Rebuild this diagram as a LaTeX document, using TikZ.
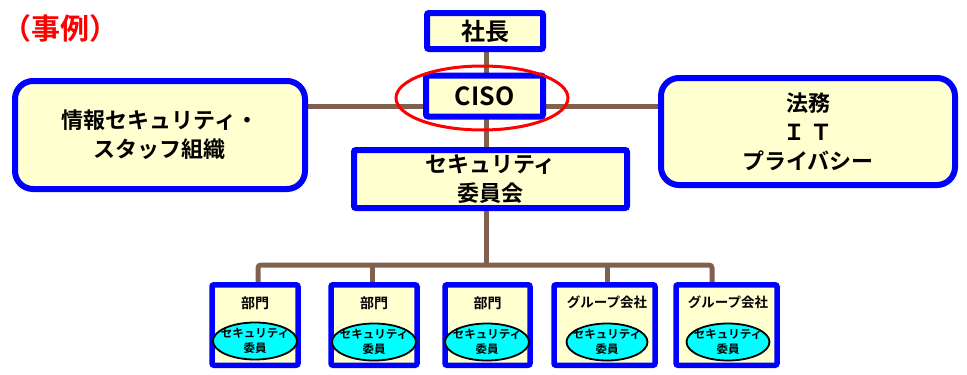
\documentclass[tikz,border=0pt]{standalone}
\usepackage{fontspec}
\setmainfont{Noto Sans CJK JP}[BoldFont={Noto Sans CJK JP Bold}]
\usetikzlibrary{shapes.geometric,backgrounds}
\definecolor{boxfill}{RGB}{255,255,208}
\definecolor{boxblue}{RGB}{0,0,255}
\definecolor{conncol}{RGB}{128,97,78}
\definecolor{ovalfill}{RGB}{0,255,255}
\definecolor{titlered}{RGB}{255,0,0}
\tikzset{
  orgbox/.style={draw=boxblue, fill=boxfill, line width=6pt, rounded corners=2pt, align=center, inner sep=0pt, font=\bfseries},
  bigbox/.style={orgbox, rounded corners=18pt},
  unitbox/.style={orgbox, line width=5.5pt, minimum height=80.5pt},
  conn/.style={draw=conncol, line width=5pt, rounded corners=3pt},
  oval/.style={ellipse, draw=black, fill=ovalfill, line width=1.8pt, minimum width=84pt, minimum height=37pt, inner xsep=-14pt, inner ysep=-5pt, align=center, font=\bfseries\fontsize{11.5}{15.5}\selectfont},
  unitlabel/.style={font=\bfseries\fontsize{14}{16}\selectfont, inner sep=0pt},
  redoval/.style={ellipse, draw=titlered, line width=3pt, minimum width=172pt, minimum height=64pt, inner sep=0pt}
}
\begin{document}
\begin{tikzpicture}[x=1pt,y=-1pt]
\useasboundingbox (0,0) rectangle (967,375);
% main boxes
\node[orgbox, minimum width=116pt, minimum height=36pt, font=\bfseries\fontsize{24}{26}\selectfont] (shacho) at (485,31) {社長};
\node[orgbox, minimum width=117pt, minimum height=41pt, font=\bfseries\fontsize{25}{28}\selectfont] (ciso) at (484.5,96) {CISO};
\node[orgbox, minimum width=273pt, minimum height=58pt, font=\bfseries\fontsize{22}{29}\selectfont] (committee) at (490.5,179) {セキュリティ\\委員会};
\node[bigbox, minimum width=290pt, minimum height=108pt, font=\bfseries\fontsize{22}{29}\selectfont] (staff) at (160,135) {情報セキュリティ・\\スタッフ組織};
\node[bigbox, minimum width=294pt, minimum height=107pt, font=\bfseries\fontsize{22}{29}\selectfont] (legal) at (808,131.5) {法務\\Ｉ Ｔ\\プライバシー};
% unit boxes
\node[unitbox, minimum width=86pt] (b1) at (255,325) {};
\node[unitbox, minimum width=86pt] (b2) at (374,325) {};
\node[unitbox, minimum width=85pt] (b3) at (487.5,325) {};
\node[unitbox, minimum width=101pt] (b4) at (604.5,325) {};
\node[unitbox, minimum width=101pt] (b5) at (726.5,325) {};
\node[unitlabel] (l1) at (255,303) {部門};
\node[unitlabel] (l2) at (374,303) {部門};
\node[unitlabel] (l3) at (487.5,303) {部門};
\node[unitlabel, font=\bfseries\fontsize{13.5}{16}\selectfont] (l4) at (607,302) {グループ会社};
\node[unitlabel, font=\bfseries\fontsize{13.5}{16}\selectfont] (l5) at (728,302) {グループ会社};
\node[oval] (o1) at (255,341) {セキュリティ\\委員};
\node[oval] (o2) at (374,342) {セキュリティ\\委員};
\node[oval] (o3) at (487,342) {セキュリティ\\委員};
\node[oval, minimum width=81pt] (o4) at (607,342) {セキュリティ\\委員};
\node[oval, minimum width=83pt] (o5) at (728,342) {セキュリティ\\委員};
% connectors
\coordinate (hy) at (486,106);
\coordinate (jm) at (486,265);
\coordinate (j1) at (258,265);
\coordinate (j2) at (372,265);
\coordinate (j4) at (607,265);
\coordinate (j5) at (712,265);
\begin{scope}[on background layer]
\draw[conn] (jm |- shacho.south) -- (jm);
\draw[conn] (staff.east |- hy) -- (legal.west |- hy);
\draw[conn] (j1 |- b1.north) -- (j1) -- (j5) -- (j5 |- b5.north);
\draw[conn] (j2) -- (j2 |- b2.north);
\draw[conn] (j4) -- (j4 |- b4.north);
\end{scope}
% highlight
\node[redoval] (hl) at (482,98) {};
% title
\node[text=titlered, font=\bfseries\fontsize{29}{32}\selectfont, inner sep=0pt] (title) at (60,28) {（事例）};
\end{tikzpicture}
\end{document}
